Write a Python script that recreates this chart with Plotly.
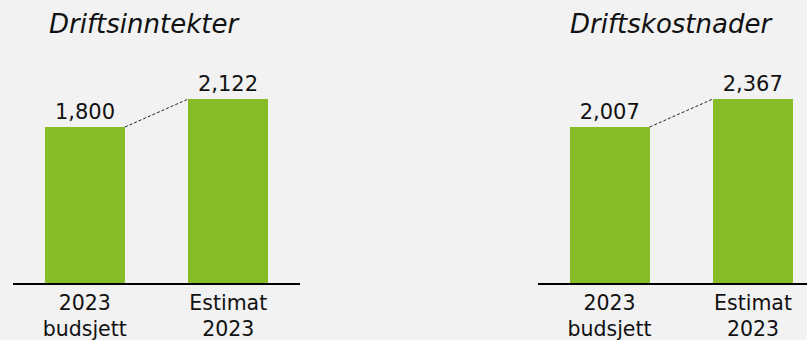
import plotly.graph_objects as go

categories = ["2023<br>budsjett", "Estimat<br>2023"]
inntekter = [1800, 2122]
kostnader = [2007, 2367]
titles = ["Driftsinntekter", "Driftskostnader"]

GREEN = "#86BC25"
BG = "#F2F2F2"
FONT = "DejaVu Sans, Verdana, sans-serif"
W, H = 807, 340
BW = 0.56

fig = go.Figure()

def add_panel(vals, xa, ya):
    fig.add_trace(go.Bar(
        x=[0, 1], y=vals, width=BW, marker=dict(color=GREEN, line=dict(width=0)),
        text=[f"{v:,}" for v in vals], textposition="outside", cliponaxis=False,
        textfont=dict(size=21, color="#111111", family=FONT),
        xaxis=xa, yaxis=ya, showlegend=False, hoverinfo="skip"))
    fig.add_trace(go.Scatter(
        x=[0 + BW / 2, 1 - BW / 2], y=vals, mode="lines",
        line=dict(color="#222222", width=1, dash="3px,2px"),
        xaxis=xa, yaxis=ya, showlegend=False, hoverinfo="skip"))

add_panel(inntekter, "x", "y")
add_panel(kostnader, "x2", "y2")

base_px = 283
bar_px = 156
ydom = [(H - base_px) / H, 1]
ax_common = dict(showgrid=False, zeroline=False, showline=True, linecolor="black",
                 linewidth=2, ticks="", tickvals=[0, 1], ticktext=categories,
                 automargin=False,
                 tickfont=dict(size=20.5, color="#111111", family=FONT), fixedrange=True)

fig.update_layout(
    width=W, height=H, margin=dict(l=0, r=0, t=0, b=0),
    paper_bgcolor=BG, plot_bgcolor=BG, bargap=0,
    font=dict(family=FONT),
    xaxis=dict(domain=[13 / W, 300 / W], range=[-0.5, 1.5], anchor="y", **ax_common),
    xaxis2=dict(domain=[537.75 / W, 1], range=[-0.5, (W - 537.75) / 143.5 - 0.5], anchor="y2", **ax_common),
    yaxis=dict(domain=ydom, range=[0, inntekter[0] * base_px / bar_px], visible=False, fixedrange=True),
    yaxis2=dict(domain=ydom, range=[0, kostnader[0] * base_px / bar_px], visible=False, fixedrange=True, anchor="x2"),
)

for t, cx in zip(titles, [144, 671]):
    fig.add_annotation(text=f"<i>{t}</i>", x=cx / W, y=1 - 24 / H, xref="paper", yref="paper",
                       showarrow=False, xanchor="center", yanchor="middle",
                       font=dict(size=26, color="#111111", family=FONT))

fig.write_html("out.html", config={"displayModeBar": False},
               post_script="document.body.style.margin='0';document.body.style.overflow='hidden';")
